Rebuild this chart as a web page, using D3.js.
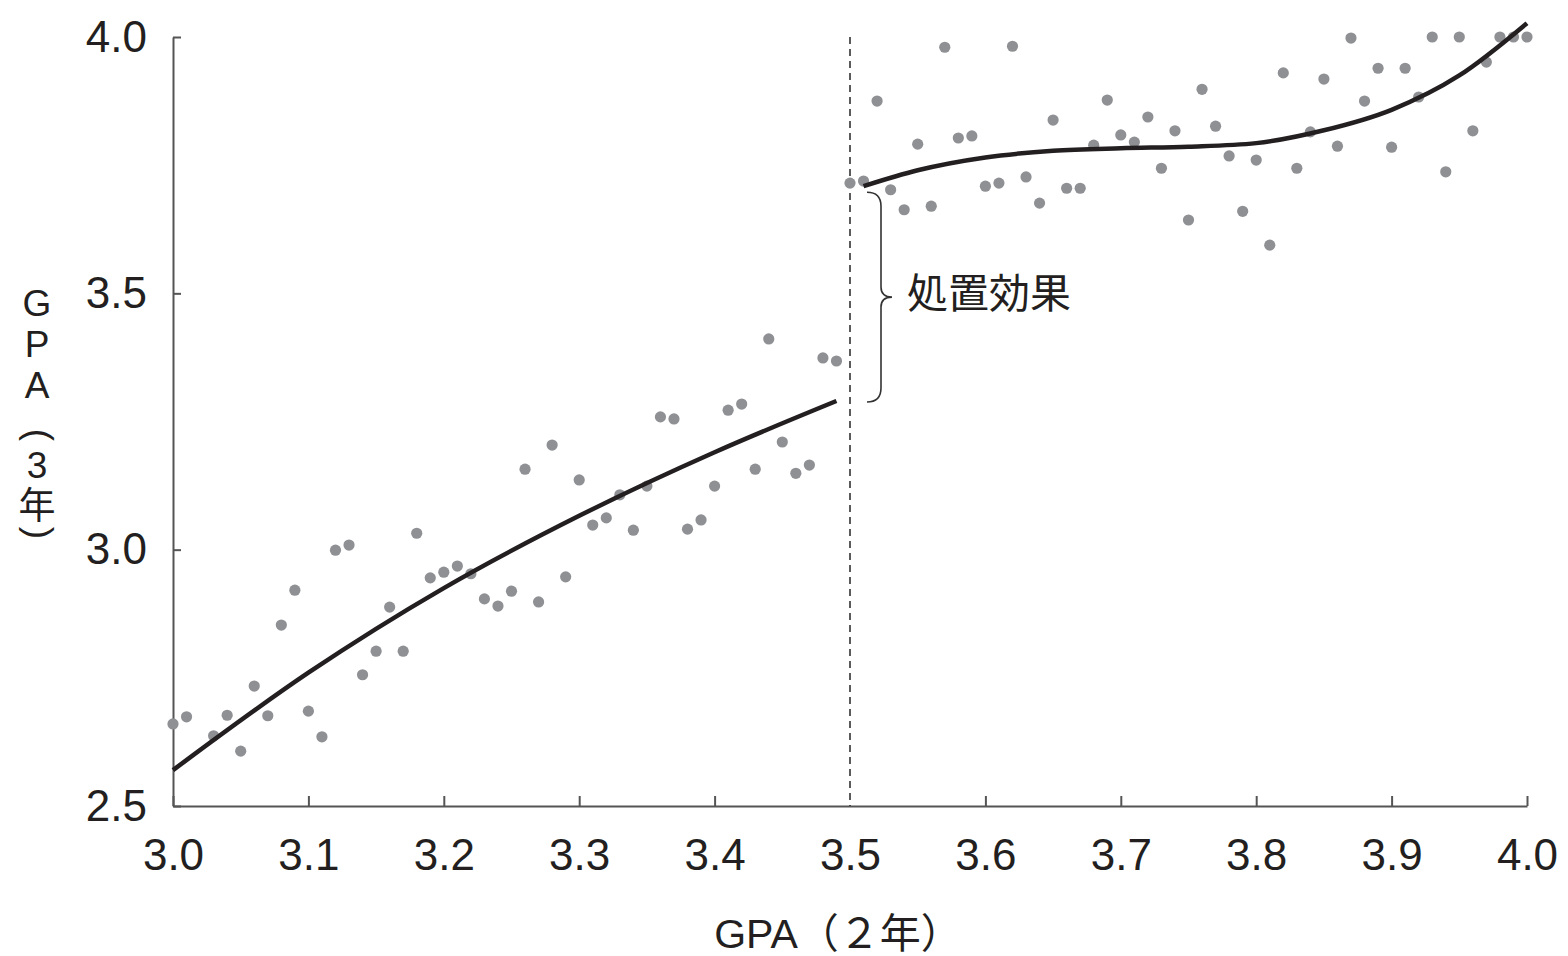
<!DOCTYPE html>
<html>
<head>
<meta charset="utf-8">
<script src="https://cdn.jsdelivr.net/npm/d3@7"></script>
<style>
  body { margin: 0; background: #fff; }
  svg text { font-family: "Liberation Sans", "Noto Sans CJK JP", sans-serif; fill: #231f20; }
</style>
</head>
<body>
<div id="chart"></div>
<script>
// GPA in year 2 (running variable) and year 3 (outcome), below the 3.5 cutoff
var leftX = [3.00, 3.01, 3.03, 3.04, 3.05, 3.06, 3.07, 3.08, 3.09, 3.10,
             3.11, 3.12, 3.13, 3.14, 3.15, 3.16, 3.17, 3.18, 3.19, 3.20,
             3.21, 3.22, 3.23, 3.24, 3.25, 3.26, 3.27, 3.28, 3.29, 3.30,
             3.31, 3.32, 3.33, 3.34, 3.35, 3.36, 3.37, 3.38, 3.39, 3.40,
             3.41, 3.42, 3.43, 3.44, 3.45, 3.46, 3.47, 3.48, 3.49];
var leftY = [2.660, 2.674, 2.637, 2.677, 2.607, 2.734, 2.676, 2.853, 2.921, 2.685,
             2.635, 2.999, 3.009, 2.756, 2.802, 2.888, 2.802, 3.032, 2.945, 2.956,
             2.968, 2.953, 2.904, 2.890, 2.919, 3.157, 2.898, 3.204, 2.947, 3.136,
             3.048, 3.062, 3.107, 3.038, 3.124, 3.259, 3.255, 3.040, 3.058, 3.124,
             3.272, 3.284, 3.157, 3.411, 3.210, 3.149, 3.165, 3.374, 3.368];

// at or above the cutoff
var rightX = [3.50, 3.51, 3.52, 3.53, 3.54, 3.55, 3.56, 3.57, 3.58, 3.59,
              3.60, 3.61, 3.62, 3.63, 3.64, 3.65, 3.66, 3.67, 3.68, 3.69,
              3.70, 3.71, 3.72, 3.73, 3.74, 3.75, 3.76, 3.77, 3.78, 3.79,
              3.80, 3.81, 3.82, 3.83, 3.84, 3.85, 3.86, 3.87, 3.88, 3.89,
              3.90, 3.91, 3.92, 3.93, 3.94, 3.95, 3.96, 3.97, 3.98, 3.99, 4.00];
var rightY = [3.715, 3.719, 3.875, 3.702, 3.663, 3.791, 3.670, 3.980, 3.803, 3.807,
              3.709, 3.715, 3.982, 3.727, 3.676, 3.838, 3.705, 3.705, 3.789, 3.877,
              3.809, 3.795, 3.844, 3.744, 3.817, 3.643, 3.898, 3.826, 3.768, 3.660,
              3.760, 3.594, 3.930, 3.744, 3.815, 3.918, 3.787, 3.998, 3.875, 3.939,
              3.785, 3.939, 3.883, 4.000, 3.737, 4.000, 3.817, 3.951, 4.000, 4.000, 4.000];

// fitted curves
var fitLeftX = [3.00, 3.10, 3.20, 3.30, 3.40, 3.49];
var fitLeftY = [2.570, 2.760, 2.925, 3.066, 3.190, 3.290];
var fitRightX = [3.51, 3.55, 3.60, 3.65, 3.70, 3.75, 3.80, 3.85, 3.90, 3.95, 4.00];
var fitRightY = [3.709, 3.740, 3.765, 3.778, 3.783, 3.786, 3.793, 3.818, 3.858, 3.925, 4.027];

var cutoff = 3.5;
var xTicks = [3.0, 3.1, 3.2, 3.3, 3.4, 3.5, 3.6, 3.7, 3.8, 3.9, 4.0];
var yTicks = [2.5, 3.0, 3.5, 4.0];
var effectLabel = "処置効果";
var xTitle = "GPA（２年）";
var yTitleChars = ["G", "P", "A", "(", "3", "年", ")"];

var width = 1568, height = 956;

var svg = d3.select("#chart")
	.append("svg")
	.attr("width", width)
	.attr("height", height);

var x = d3.scaleLinear().domain([3.0, 4.0]).range([173, 1527]);
var y = d3.scaleLinear().domain([2.5, 4.0]).range([806, 37]);

// axes
var xAxis = svg.append("g")
	.attr("transform", "translate(0," + y(2.5) + ")")
	.call(d3.axisBottom(x)
		.tickValues(xTicks)
		.tickFormat(d3.format(".1f"))
		.tickSizeInner(-10)
		.tickSizeOuter(0)
		.tickPadding(33));

var yAxis = svg.append("g")
	.attr("transform", "translate(" + x(3.0) + ",0)")
	.call(d3.axisLeft(y)
		.tickValues(yTicks)
		.tickFormat(d3.format(".1f"))
		.tickSizeInner(-8)
		.tickSizeOuter(0)
		.tickPadding(26));

[xAxis, yAxis].forEach(function(g) {
	g.select(".domain").attr("stroke", "#555").attr("stroke-width", 2);
	g.selectAll(".tick line").attr("stroke", "#555").attr("stroke-width", 2);
	g.selectAll(".tick text")
		.style("font-size", "44px")
		.attr("fill", "#231f20");
});
xAxis.selectAll(".tick")
	.filter(function(d) { return d === 3.5; })
	.select("line").remove();

// cutoff line
svg.append("line")
	.attr("x1", x(cutoff))
	.attr("x2", x(cutoff))
	.attr("y1", y(4.0))
	.attr("y2", y(2.5))
	.attr("stroke", "#333")
	.attr("stroke-width", 1.6)
	.attr("stroke-dasharray", "7,5");

// points
var pts = [];
leftX.forEach(function(v, i) { pts.push([v, leftY[i]]); });
rightX.forEach(function(v, i) { pts.push([v, rightY[i]]); });

svg.append("g")
	.selectAll("circle")
	.data(pts)
	.enter()
	.append("circle")
	.attr("cx", function(d) { return x(d[0]); })
	.attr("cy", function(d) { return y(d[1]); })
	.attr("r", 5.6)
	.attr("fill", "#8f9094");

// fitted curves
var line = d3.line()
	.x(function(d) { return x(d[0]); })
	.y(function(d) { return y(d[1]); })
	.curve(d3.curveMonotoneX);

svg.append("path")
	.datum(fitLeftX.map(function(v, i) { return [v, fitLeftY[i]]; }))
	.attr("d", line)
	.attr("fill", "none")
	.attr("stroke", "#231f20")
	.attr("stroke-width", 4.5);

svg.append("path")
	.datum(fitRightX.map(function(v, i) { return [v, fitRightY[i]]; }))
	.attr("d", line)
	.attr("fill", "none")
	.attr("stroke", "#231f20")
	.attr("stroke-width", 4.5);

// brace for the jump
var braceTop = y(fitRightY[0]) + 6;
var braceBot = y(fitLeftY[fitLeftY.length - 1]) + 1;
var braceMid = (braceTop + braceBot) / 2;
var bx0 = x(cutoff) + 17, bx1 = x(cutoff) + 31, tip = x(cutoff) + 42;
var brace = "M" + bx0 + "," + braceTop +
	" Q" + bx1 + "," + braceTop + " " + bx1 + "," + (braceTop + 14) +
	" L" + bx1 + "," + (braceMid - 10) +
	" Q" + bx1 + "," + braceMid + " " + tip + "," + braceMid +
	" Q" + bx1 + "," + braceMid + " " + bx1 + "," + (braceMid + 10) +
	" L" + bx1 + "," + (braceBot - 14) +
	" Q" + bx1 + "," + braceBot + " " + bx0 + "," + braceBot;

svg.append("path")
	.attr("d", brace)
	.attr("fill", "none")
	.attr("stroke", "#333")
	.attr("stroke-width", 1.6);

svg.append("text")
	.attr("x", 907)
	.attr("y", braceMid + 11)
	.style("font-family", "'Noto Sans CJK JP', sans-serif")
	.style("font-size", "41px")
	.text(effectLabel);

// axis titles
svg.append("text")
	.attr("x", 838)
	.attr("y", 948)
	.attr("text-anchor", "middle")
	.style("font-size", "41px")
	.text(xTitle);

// vertical y title, one glyph per line; brackets turned a quarter
var yTitleY = [316, 357, 398, 435, 478, 519, 533];
svg.append("g")
	.selectAll("text")
	.data(yTitleChars)
	.enter()
	.append("text")
	.attr("transform", function(d, i) {
		var t = "translate(37," + yTitleY[i] + ")";
		return (d === "(" || d === ")") ? t + " rotate(90)" : t;
	})
	.attr("text-anchor", "middle")
	.attr("dy", function(d) { return (d === "(" || d === ")") ? "0.26em" : null; })
	.style("font-size", "37px")
	.text(function(d) { return d; });
</script>
</body>
</html>
